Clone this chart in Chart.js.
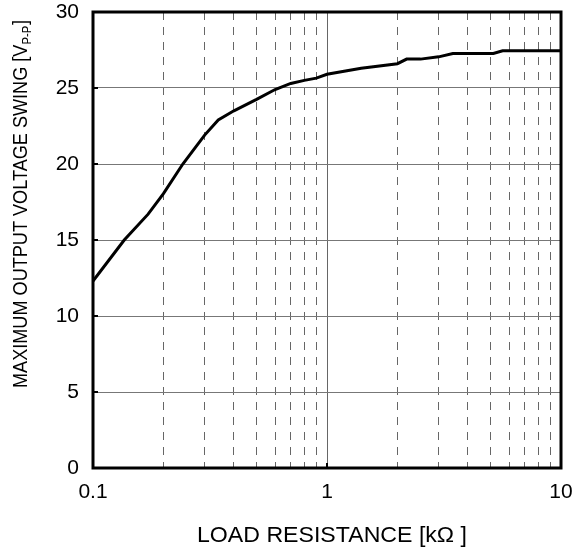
<!DOCTYPE html>
<html>
<head>
<meta charset="utf-8">
<script src="https://cdn.jsdelivr.net/npm/chart.js@4"></script>
<style>
  html,body{margin:0;padding:0;background:#fff;}
  #wrap{width:585px;height:552px;position:relative;}
</style>
</head>
<body>
<div id="wrap"><canvas id="c" width="585" height="552"></canvas></div>
<script>
// Load resistance [kΩ]
const resistance = [0.1, 0.136, 0.172, 0.2, 0.242, 0.3, 0.343, 0.4, 0.5, 0.6, 0.7, 0.8, 0.9, 1.0, 1.4, 2.0, 2.19, 2.51, 3.0, 3.45, 5.14, 5.63, 10];
// Maximum output voltage swing [Vp-p]
const swing = [12.3, 15.0, 16.7, 18.05, 20.0, 21.9, 22.9, 23.5, 24.25, 24.9, 25.3, 25.5, 25.65, 25.9, 26.3, 26.6, 26.9, 26.9, 27.05, 27.27, 27.27, 27.45, 27.45];
const xTicks = [0.1,0.2,0.3,0.4,0.5,0.6,0.7,0.8,0.9,1,2,3,4,5,6,7,8,9,10];
const xLabeled = [0.1, 1, 10];
const yTicks = [0, 5, 10, 15, 20, 25, 30];
const xTitle = 'LOAD RESISTANCE [kΩ ]';
const yTitleMain = 'MAXIMUM OUTPUT VOLTAGE SWING [V';
const yTitleSub = 'P-P';
const yTitleEnd = ']';

const FONT = '"Liberation Sans", Arial, sans-serif';

const framePlugin = {
  id: 'frame',
  afterDraw(chart) {
    const ctx = chart.ctx, a = chart.chartArea;
    ctx.save();
    // small inward ticks on left border
    const ys = chart.scales.y;
    ctx.strokeStyle = '#000'; ctx.lineWidth = 2;
    yTicks.forEach(v => {
      const p = ys.getPixelForValue(v);
      ctx.beginPath(); ctx.moveTo(a.left, p); ctx.lineTo(a.left + 5, p); ctx.stroke();
    });
    const xs = chart.scales.x;
    const p1 = xs.getPixelForValue(1);
    ctx.beginPath(); ctx.moveTo(p1, a.bottom); ctx.lineTo(p1, a.bottom - 5); ctx.stroke();
    // frame
    ctx.lineWidth = 3;
    ctx.strokeRect(a.left, a.top, a.right - a.left, a.bottom - a.top);
    ctx.fillStyle = '#000';
    // x title (fit to ~270px)
    ctx.save();
    ctx.font = '22px ' + FONT;
    ctx.textAlign = 'left';
    ctx.textBaseline = 'middle';
    const xw = ctx.measureText(xTitle).width;
    const xk = 270 / xw;
    ctx.translate(197, 536);
    ctx.scale(xk, 1);
    ctx.fillText(xTitle, 0, 0);
    ctx.restore();
    // y title with subscript (fit to ~368px)
    ctx.save();
    ctx.font = '21px ' + FONT;
    const w1 = ctx.measureText(yTitleMain).width;
    const w3 = ctx.measureText(yTitleEnd).width;
    ctx.font = '13px ' + FONT;
    const w2 = ctx.measureText(yTitleSub).width;
    const total = w1 + w2 + 1 + w3;
    const yk = 368 / total;
    ctx.translate(21, 388);
    ctx.rotate(-Math.PI / 2);
    ctx.scale(yk, 1);
    ctx.textAlign = 'left';
    ctx.textBaseline = 'middle';
    ctx.font = '21px ' + FONT;
    ctx.fillText(yTitleMain, 0, 0);
    ctx.font = '13px ' + FONT;
    ctx.fillText(yTitleSub, w1, 6);
    ctx.font = '21px ' + FONT;
    ctx.fillText(yTitleEnd, w1 + w2 + 1, 0);
    ctx.restore();
    ctx.restore();
  }
};

new Chart(document.getElementById('c'), {
  type: 'line',
  data: {
    datasets: [{
      data: resistance.map((x, i) => ({x: x, y: swing[i]})),
      borderColor: '#000',
      borderWidth: 3,
      pointRadius: 0,
      tension: 0,
      fill: false
    }]
  },
  options: {
    responsive: false,
    animation: false,
    devicePixelRatio: 1,
    layout: {padding: {left: 0, right: 24, top: 0, bottom: 0}},
    plugins: {legend: {display: false}, tooltip: {enabled: false}},
    scales: {
      x: {
        type: 'logarithmic',
        min: 0.1, max: 10,
        afterBuildTicks: s => { s.ticks = xTicks.map(v => ({value: v})); },
        afterFit: s => { s.height = 84; },
        ticks: {
          autoSkip: false, maxRotation: 0, padding: 12,
          color: '#000', font: {family: FONT, size: 21},
          callback: v => xLabeled.includes(v) ? String(v) : ''
        },
        grid: {
          drawTicks: false,
          color: '#666',
          lineWidth: 1
        },
        border: {
          display: false,
          dash: ctx => (ctx.tick && [1, 10].includes(ctx.tick.value)) || ctx.tick === undefined ? [] : [8, 7]
        }
      },
      y: {
        min: 0, max: 30,
        afterBuildTicks: s => { s.ticks = yTicks.map(v => ({value: v})); },
        afterFit: s => { s.width = 93; s.paddingTop = 12; s.paddingBottom = 0; },
        ticks: {
          padding: 14, color: '#000', font: {family: FONT, size: 21}
        },
        grid: {drawTicks: false, color: '#777', lineWidth: 1},
        border: {display: false}
      }
    }
  },
  plugins: [framePlugin]
});
</script>
</body>
</html>
